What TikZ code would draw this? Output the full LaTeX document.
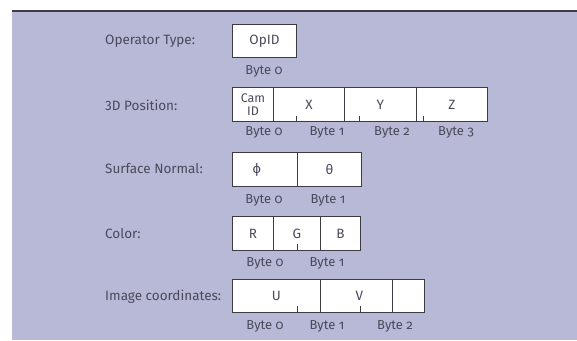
\documentclass[tikz,border=0pt]{standalone}
\usepackage{fontspec}
\setmainfont{Fira Sans}
\newfontfamily\bytefont[Numbers=OldStyle]{Fira Sans}
\definecolor{bg}{HTML}{B8B8D7}
\definecolor{txt}{HTML}{4A4A5C}
\definecolor{boxc}{HTML}{3C3C44}
\begin{document}
\begin{tikzpicture}[x=1pt,y=-1pt,
  lbl/.style={text=txt, font=\fontsize{13.5}{15}\selectfont, anchor=west, inner sep=0},
  cell/.style={draw=boxc, fill=white, line width=0.9pt, minimum height=33pt, inner sep=0,
               anchor=north west, text=txt, font=\fontsize{13.5}{15}\selectfont},
  bytelbl/.style={text=txt, font=\bytefont\fontsize{13}{14}\selectfont, inner sep=0},
  tickmark/.style={draw=boxc, line width=0.9pt}]
\useasboundingbox (0,0) rectangle (577,340);
\fill[white] (0,0) rectangle (577,340);
\fill[bg] (12,11) rectangle (577,340);
\coordinate (topl) at (12,11);
\coordinate (topr) at (577,11);
\draw[boxc, line width=1.2pt] (topl) -- (topr);

% Row 1
\node[lbl] (l1) at (105,41) {Operator Type:};
\node[cell, minimum width=64pt] (opid) at (232,24) {OpID};
\node[bytelbl] (b1a) at (264,71) {Byte 0};

% Row 2
\node[lbl] (l2) at (105,105) {3D Position:};
\node[cell, minimum width=41pt, minimum height=34pt, align=center,
      font=\fontsize{12.5}{12.5}\selectfont] (cam) at (232,87) {Cam\\ID};
\node[cell, minimum width=71pt, minimum height=34pt] (cx) at (273,87) {X};
\node[cell, minimum width=72pt, minimum height=34pt] (cy) at (344,87) {Y};
\node[cell, minimum width=71pt, minimum height=34pt] (cz) at (416,87) {Z};
\draw[tickmark] ([xshift=23pt]cx.south west) -- ++(0,-6);
\draw[tickmark] ([xshift=15pt]cy.south west) -- ++(0,-6);
\draw[tickmark] ([xshift=7pt]cz.south west) -- ++(0,-6);
\node[bytelbl] (b2a) at (264,132) {Byte 0};
\node[bytelbl] (b2b) at (327,132) {Byte 1};
\node[bytelbl] (b2c) at (392,132) {Byte 2};
\node[bytelbl] (b2d) at (456,132) {Byte 3};

% Row 3
\node[lbl] (l3) at (105,169) {Surface Normal:};
\node[cell, minimum width=65pt, minimum height=34pt] (phi) at (232,152) {ϕ\hspace*{16pt}};
\node[cell, minimum width=64pt, minimum height=34pt] (theta) at (297,152) {θ};
\node[bytelbl] (b3a) at (264,200) {Byte 0};
\node[bytelbl] (b3b) at (328,200) {Byte 1};

% Row 4
\node[lbl] (l4) at (105,234) {Color:};
\node[cell, minimum width=41pt, minimum height=34pt] (cr) at (232,216) {R};
\node[cell, minimum width=47pt, minimum height=34pt] (cg) at (273,216) {G};
\node[cell, minimum width=40pt, minimum height=34pt] (cb) at (320,216) {B};
\draw[tickmark] ([xshift=24pt]cg.south west) -- ++(0,-7);
\node[bytelbl] (b4a) at (265,263) {Byte 0};
\node[bytelbl] (b4b) at (327,263) {Byte 1};

% Row 5
\node[lbl] (l5) at (105,297) {Image coordinates:};
\node[cell, minimum width=88pt] (cu) at (232,279) {U};
\node[cell, minimum width=72pt] (cv) at (320,279) {\hspace*{6pt}V};
\node[cell, minimum width=32pt] (cw) at (392,279) {};
\draw[tickmark] ([xshift=65pt]cu.south west) -- ++(0,-7);
\draw[tickmark] ([xshift=40pt]cv.south west) -- ++(0,-7);
\node[bytelbl] (b5a) at (265,326) {Byte 0};
\node[bytelbl] (b5b) at (327,326) {Byte 1};
\node[bytelbl] (b5c) at (395,326) {Byte 2};
\end{tikzpicture}
\end{document}
